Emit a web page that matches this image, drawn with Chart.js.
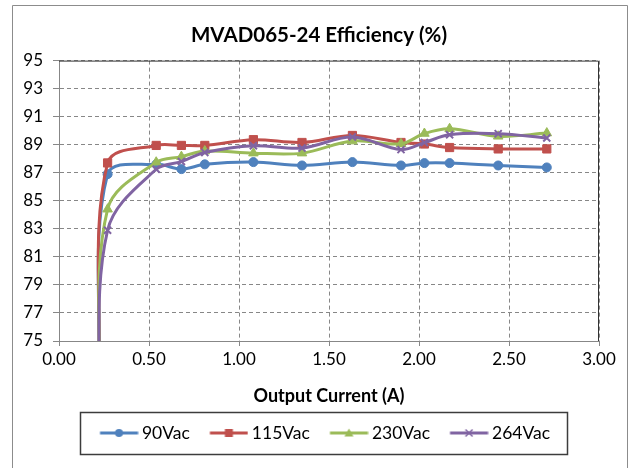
<!DOCTYPE html>
<html>
<head>
<meta charset="utf-8">
<script src="https://cdn.jsdelivr.net/npm/chart.js@4.4.1/dist/chart.umd.min.js"></script>
<style>
html, body { margin: 0; padding: 0; background: #fff; }
</style>
</head>
<body>
<canvas id="chart" width="628" height="468"></canvas>
<script>
// output current (A) and efficiency (%) per input voltage
const currents = [0.22, 0.27, 0.54, 0.68, 0.81, 1.08, 1.35, 1.63, 1.90, 2.03, 2.17, 2.44, 2.71];
const eff90  = [72.0, 86.9, 87.6, 87.26, 87.6, 87.76, 87.52, 87.76, 87.52, 87.69, 87.69, 87.52, 87.38];
const eff115 = [72.6, 87.7, 88.95, 88.95, 88.95, 89.36, 89.16, 89.66, 89.16, 89.05, 88.8, 88.7, 88.7];
const eff230 = [70.8, 84.4, 87.75, 88.15, 88.55, 88.4, 88.4, 89.26, 89.07, 89.8, 90.14, 89.6, 89.83];
const eff264 = [69.4, 82.9, 87.25, 87.8, 88.45, 88.93, 88.76, 89.55, 88.65, 89.15, 89.71, 89.79, 89.48];

const seriesNames = ['90Vac', '115Vac', '230Vac', '264Vac'];
const xTickValues = [0, 0.5, 1, 1.5, 2, 2.5, 3];
const yTickValues = [75, 77, 79, 81, 83, 85, 87, 89, 91, 93, 95];

const colors = ['#4F81BD', '#C0504D', '#9BBB59', '#8064A2'];
const markers = ['circle', 'rect', 'triangle', 'crossRot'];
const radii = [4.5, 5.8, 5.5, 5];

Chart.defaults.font.family = 'Lato';
Chart.defaults.color = '#000';

// legend sample: short line with the marker in the middle
function legendIcon(color, style) {
  const c = document.createElement('canvas');
  c.width = 56; c.height = 14;
  const g = c.getContext('2d');
  const x0 = 17.4, mx = x0 + 19;
  g.strokeStyle = color; g.fillStyle = color;
  g.lineWidth = 3;
  g.beginPath(); g.moveTo(x0, 7); g.lineTo(x0 + 38, 7); g.stroke();
  g.lineWidth = 1.5;
  if (style === 'circle') {
    g.beginPath(); g.arc(mx, 7, 4, 0, Math.PI * 2); g.fill();
  } else if (style === 'rect') {
    g.fillRect(mx - 4, 3, 8, 8);
  } else if (style === 'triangle') {
    g.beginPath(); g.moveTo(mx, 2.5); g.lineTo(mx + 4.5, 10.5); g.lineTo(mx - 4.5, 10.5); g.closePath(); g.fill();
  } else {
    g.beginPath(); g.moveTo(mx - 3.5, 3.5); g.lineTo(mx + 3.5, 10.5); g.moveTo(mx + 3.5, 3.5); g.lineTo(mx - 3.5, 10.5); g.stroke();
  }
  return c;
}
const icons = colors.map((c, i) => legendIcon(c, markers[i]));

const allSeries = [eff90, eff115, eff230, eff264];
const datasets = allSeries.map((vals, i) => ({
  label: seriesNames[i],
  data: currents.map((x, j) => ({x: x, y: vals[j]})),
  borderColor: colors[i],
  backgroundColor: colors[i],
  borderWidth: 3,
  pointStyle: markers[i],
  pointRadius: radii[i],
  pointBorderWidth: markers[i] === 'crossRot' ? 2 : 1,
  tension: 0.35,
  order: 4 - i
}));

const framePlugin = {
  id: 'frame',
  beforeDraw(chart) {
    const ctx = chart.ctx;
    ctx.save();
    ctx.fillStyle = '#fff';
    ctx.fillRect(0, 0, chart.width, chart.height);
    ctx.strokeStyle = '#8c8c8c';
    ctx.lineWidth = 1;
    ctx.beginPath();
    ctx.moveTo(12.5, 468); ctx.lineTo(12.5, 5.5); ctx.lineTo(627.5, 5.5); ctx.lineTo(627.5, 468);
    ctx.stroke();
    ctx.restore();
  },
  beforeDatasetsDraw(chart) {
    const a = chart.chartArea, ctx = chart.ctx;
    ctx.save();
    ctx.strokeStyle = '#333';
    ctx.lineWidth = 1;
    ctx.beginPath();
    ctx.moveTo(a.left, a.top + 0.5); ctx.lineTo(a.right - 0.5, a.top + 0.5); ctx.lineTo(a.right - 0.5, a.bottom);
    ctx.stroke();
    ctx.restore();
  },
  afterDraw(chart) {
    const hb = chart.legend.legendHitBoxes;
    if (!hb || !hb.length) return;
    const left = Math.min(...hb.map(h => h.left)) + 12 - 20;
    const right = Math.max(...hb.map(h => h.left + h.width)) + 17;
    const cy = hb[0].top + hb[0].height / 2;
    const ctx = chart.ctx;
    ctx.save();
    ctx.strokeStyle = '#3c3c3c';
    ctx.lineWidth = 1.5;
    ctx.strokeRect(Math.round(left) + 0.5, Math.round(cy - 21) + 0.5, Math.round(right - left), 42);
    ctx.restore();
  }
};

new Chart(document.getElementById('chart'), {
  type: 'line',
  data: { datasets: datasets },
  options: {
    responsive: false,
    animation: false,
    layout: { padding: { left: 14, right: 4, top: 5, bottom: 16.25 } },
    scales: {
      x: {
        type: 'linear',
        min: 0,
        max: 3,
        afterBuildTicks: s => { s.ticks = xTickValues.map(v => ({value: v})); },
        afterFit: s => { s.height = 75.25; },
        ticks: { font: { size: 17 }, padding: 3, callback: v => Number(v).toFixed(2) },
        grid: { color: '#878787', tickLength: 5, tickColor: '#878787' },
        border: { color: '#878787', width: 1, dash: [4, 3] },
        title: { display: true, text: 'Output Current (A)', font: { size: 18, weight: 'bold' }, padding: { top: 0, bottom: 9 } }
      },
      y: {
        type: 'linear',
        min: 75,
        max: 95,
        afterBuildTicks: s => { s.ticks = yTickValues.map(v => ({value: v})); },
        afterFit: s => { s.width = 45; },
        ticks: { font: { size: 17 }, padding: 10 },
        grid: { color: '#878787', tickLength: 6, tickColor: '#878787' },
        border: { color: '#878787', width: 1, dash: [4, 3] }
      },
      // empty right-hand spacer so the plot ends where the reference plot ends
      yRight: {
        type: 'linear',
        position: 'right',
        min: 75,
        max: 95,
        afterFit: s => { s.width = 25; },
        ticks: { display: false },
        grid: { display: false, drawTicks: false },
        border: { display: false }
      }
    },
    plugins: {
      title: {
        display: true,
        text: 'MVAD065-24 Efficiency (%)',
        font: { size: 20.5, weight: 'bold' },
        color: '#000',
        padding: { top: 18, bottom: 13 }
      },
      legend: {
        position: 'bottom',
        reverse: true,
        labels: {
          usePointStyle: true,
          pointStyleWidth: 45.25,
          padding: 8,
          font: { size: 17.5 },
          color: '#000',
          generateLabels(chart) {
            const items = Chart.defaults.plugins.legend.labels.generateLabels(chart);
            items.forEach(it => { it.pointStyle = icons[it.datasetIndex]; });
            return items;
          }
        }
      },
      tooltip: { enabled: false }
    }
  },
  plugins: [framePlugin]
});
</script>
</body>
</html>
